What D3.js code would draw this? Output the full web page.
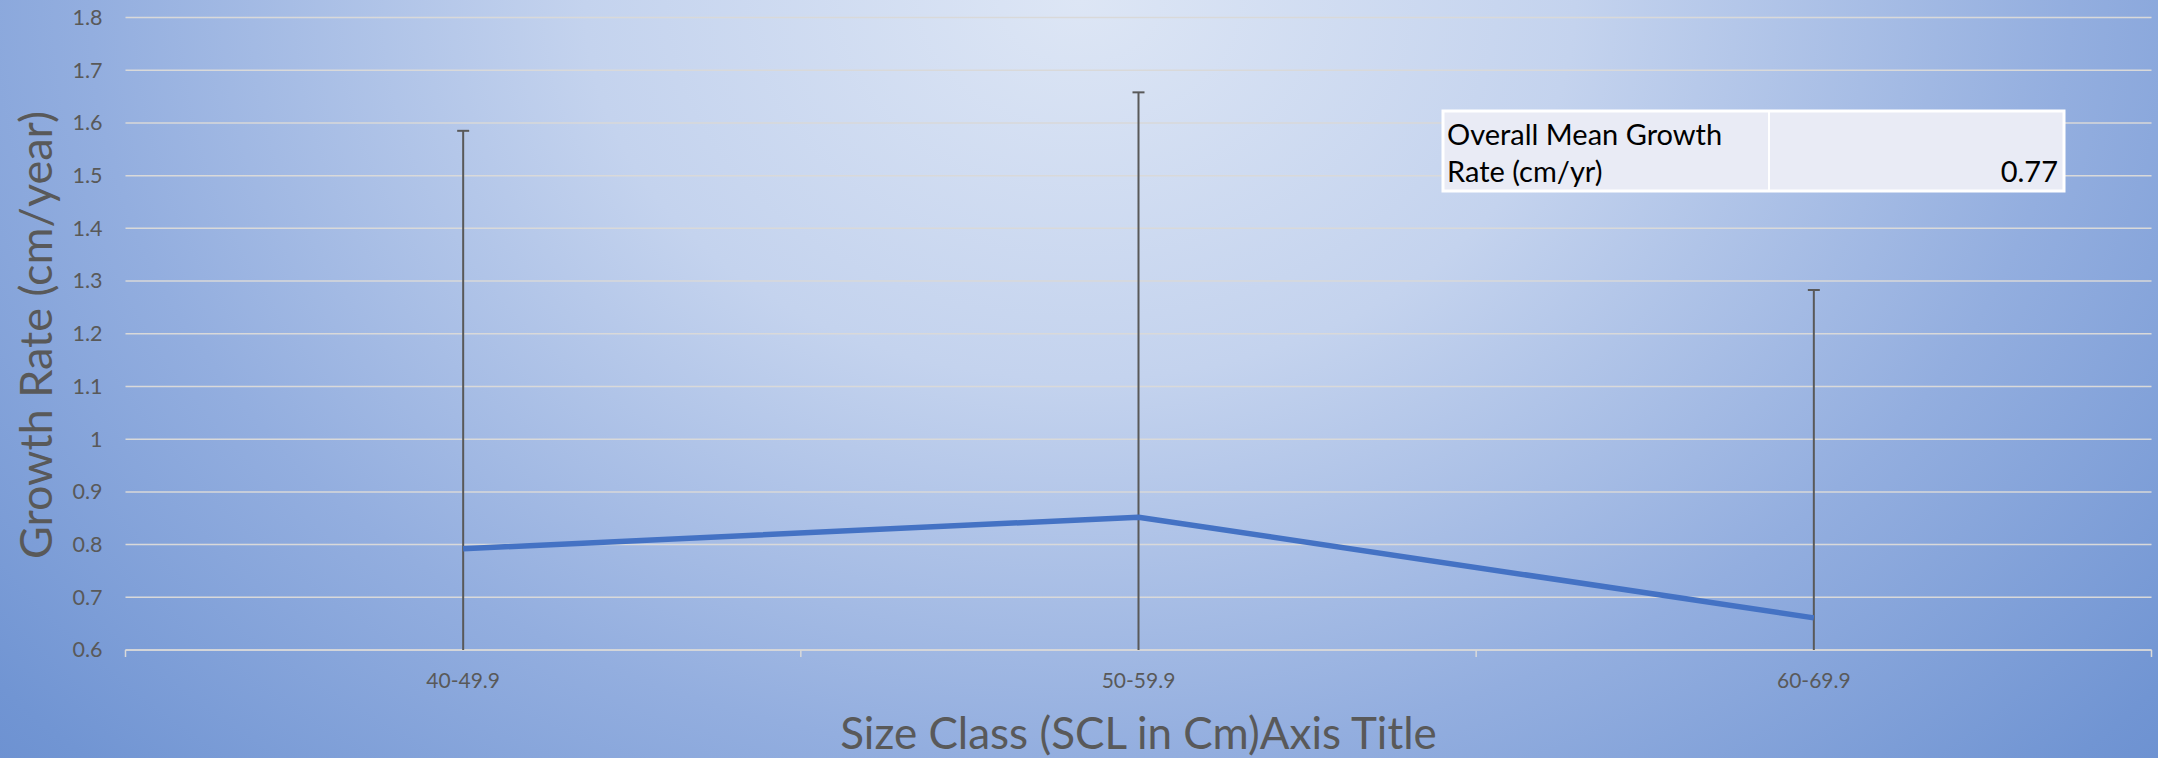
<!DOCTYPE html>
<html>
<head>
<meta charset="utf-8">
<script src="https://cdn.jsdelivr.net/npm/d3@7"></script>
<style>
    html, body { margin: 0; padding: 0; overflow: hidden; }
    svg { display: block; font-family: Lato, "Open Sans", sans-serif; }
</style>
</head>
<body>
<div id="plot"></div>
<script>
"use strict";

var WIDTH = 2158;
var HEIGHT = 758;
var TEXT_COLOR = "#595959";
var GRID_COLOR = "#d9d9d9";
var LINE_COLOR = "#4472c4";
var ERROR_COLOR = "#595959";

// Data
var categories = ["40-49.9", "50-59.9", "60-69.9"];
var meanGrowth = [0.792, 0.852, 0.661];
var errorPlus = [0.793, 0.806, 0.622];
var yTicks = [0.6, 0.7, 0.8, 0.9, 1, 1.1, 1.2, 1.3, 1.4, 1.5, 1.6, 1.7, 1.8];
var tableLabel = ["Overall Mean Growth", "Rate (cm/yr)"];
var tableValue = "0.77";

var xTitle = "Size Class (SCL in Cm)Axis Title";
var yTitle = "Growth Rate (cm/year)";

// Plot area
var plotLeft = 125.5, plotRight = 2151.5, plotTop = 17.5, plotBottom = 650;

var svg = d3.select("#plot").append("svg")
    .attr("width", WIDTH)
    .attr("height", HEIGHT);

// Background gradient, light spot at the top middle
var defs = svg.append("defs");
var grad = defs.append("radialGradient")
    .attr("id", "bg")
    .attr("gradientUnits", "userSpaceOnUse")
    .attr("cx", 0).attr("cy", 0).attr("r", 1)
    .attr("gradientTransform", "translate(1080,0) scale(1650,1263)");
[["0", "#dde6f5"], ["0.3", "#c4d3ee"], ["0.6", "#93aedf"], ["0.85", "#7195d3"], ["1", "#6389cd"]]
    .forEach(function (s) {
        grad.append("stop").attr("offset", s[0]).attr("stop-color", s[1]);
    });

svg.append("rect")
    .attr("width", WIDTH)
    .attr("height", HEIGHT)
    .attr("fill", "url(#bg)");

// Scales
var scaleX = d3.scaleBand().domain(categories).range([plotLeft, plotRight]);
var scaleY = d3.scaleLinear().domain([0.6, 1.8]).range([plotBottom, plotTop]);

function cx(d) {
    return scaleX(d) + scaleX.bandwidth() / 2;
}

// Gridlines
svg.append("g").selectAll("line")
    .data(yTicks)
    .enter().append("line")
    .attr("x1", plotLeft).attr("x2", plotRight)
    .attr("y1", function (d) { return scaleY(d); })
    .attr("y2", function (d) { return scaleY(d); })
    .style("stroke", GRID_COLOR)
    .style("stroke-width", 1.5);

// Y axis labels
var yAxis = svg.append("g")
    .attr("transform", "translate(" + plotLeft + ",0)")
    .call(d3.axisLeft(scaleY).tickValues(yTicks).tickSize(0).tickPadding(23)
        .tickFormat(function (d) { return String(d); }));
yAxis.select(".domain").remove();
yAxis.selectAll("text")
    .attr("fill", TEXT_COLOR)
    .style("font-size", "21.5px")
    .style("font-family", "Lato, sans-serif");

// X axis: line with ticks at band edges
var xAxis = svg.append("g");
xAxis.append("line")
    .attr("x1", plotLeft).attr("x2", plotRight)
    .attr("y1", plotBottom).attr("y2", plotBottom)
    .style("stroke", GRID_COLOR)
    .style("stroke-width", 1.5);

var edges = categories.map(function (c) { return scaleX(c); }).concat([plotRight]);
xAxis.selectAll("line.tick")
    .data(edges)
    .enter().append("line")
    .attr("class", "tick")
    .attr("x1", function (d) { return d; })
    .attr("x2", function (d) { return d; })
    .attr("y1", plotBottom).attr("y2", plotBottom + 7)
    .style("stroke", GRID_COLOR)
    .style("stroke-width", 1.5);

xAxis.selectAll("text")
    .data(categories)
    .enter().append("text")
    .text(function (d) { return d; })
    .attr("x", cx)
    .attr("y", 688)
    .attr("text-anchor", "middle")
    .attr("fill", TEXT_COLOR)
    .style("font-size", "21px");

// Error bars (plus and minus, clipped at the axis)
var bars = svg.append("g").selectAll("g")
    .data(categories)
    .enter().append("g");

bars.append("line")
    .attr("x1", cx).attr("x2", cx)
    .attr("y1", function (d, i) { return scaleY(meanGrowth[i] + errorPlus[i]); })
    .attr("y2", function (d, i) { return scaleY(Math.max(0.6, meanGrowth[i] - errorPlus[i])); })
    .style("stroke", ERROR_COLOR)
    .style("stroke-width", 2);

bars.append("line")
    .attr("x1", function (d) { return cx(d) - 6; })
    .attr("x2", function (d) { return cx(d) + 6; })
    .attr("y1", function (d, i) { return scaleY(meanGrowth[i] + errorPlus[i]); })
    .attr("y2", function (d, i) { return scaleY(meanGrowth[i] + errorPlus[i]); })
    .style("stroke", ERROR_COLOR)
    .style("stroke-width", 2);

// Mean line
var pathGenerator = d3.line()
    .x(function (d, i) { return cx(categories[i]); })
    .y(function (d) { return scaleY(d); });

svg.append("path")
    .attr("d", pathGenerator(meanGrowth))
    .attr("fill", "none")
    .style("stroke", LINE_COLOR)
    .style("stroke-width", 5.5)
    .style("stroke-linejoin", "round");

// Axis titles
svg.append("text")
    .text(xTitle)
    .attr("x", (plotLeft + plotRight) / 2)
    .attr("y", 749)
    .attr("text-anchor", "middle")
    .attr("fill", TEXT_COLOR)
    .style("font-size", "44px");

svg.append("text")
    .text(yTitle)
    .attr("transform", "translate(52,335) rotate(-90)")
    .attr("text-anchor", "middle")
    .attr("fill", TEXT_COLOR)
    .style("font-size", "45px");

// Summary table
var table = svg.append("g");
table.append("rect")
    .attr("x", 1443).attr("y", 111)
    .attr("width", 621).attr("height", 80)
    .attr("fill", "#e9ebf5")
    .style("stroke", "#ffffff")
    .style("stroke-width", 3);
table.append("line")
    .attr("x1", 1769).attr("x2", 1769)
    .attr("y1", 111).attr("y2", 191)
    .style("stroke", "#ffffff")
    .style("stroke-width", 2);

table.selectAll("text.label")
    .data(tableLabel)
    .enter().append("text")
    .attr("class", "label")
    .text(function (d) { return d; })
    .attr("x", 1447)
    .attr("y", function (d, i) { return 144.5 + i * 37; })
    .attr("fill", "#000")
    .style("font-size", "29px");

table.append("text")
    .text(tableValue)
    .attr("x", 2058)
    .attr("y", 181.5)
    .attr("text-anchor", "end")
    .attr("fill", "#000")
    .style("font-size", "29px");
</script>
</body>
</html>
